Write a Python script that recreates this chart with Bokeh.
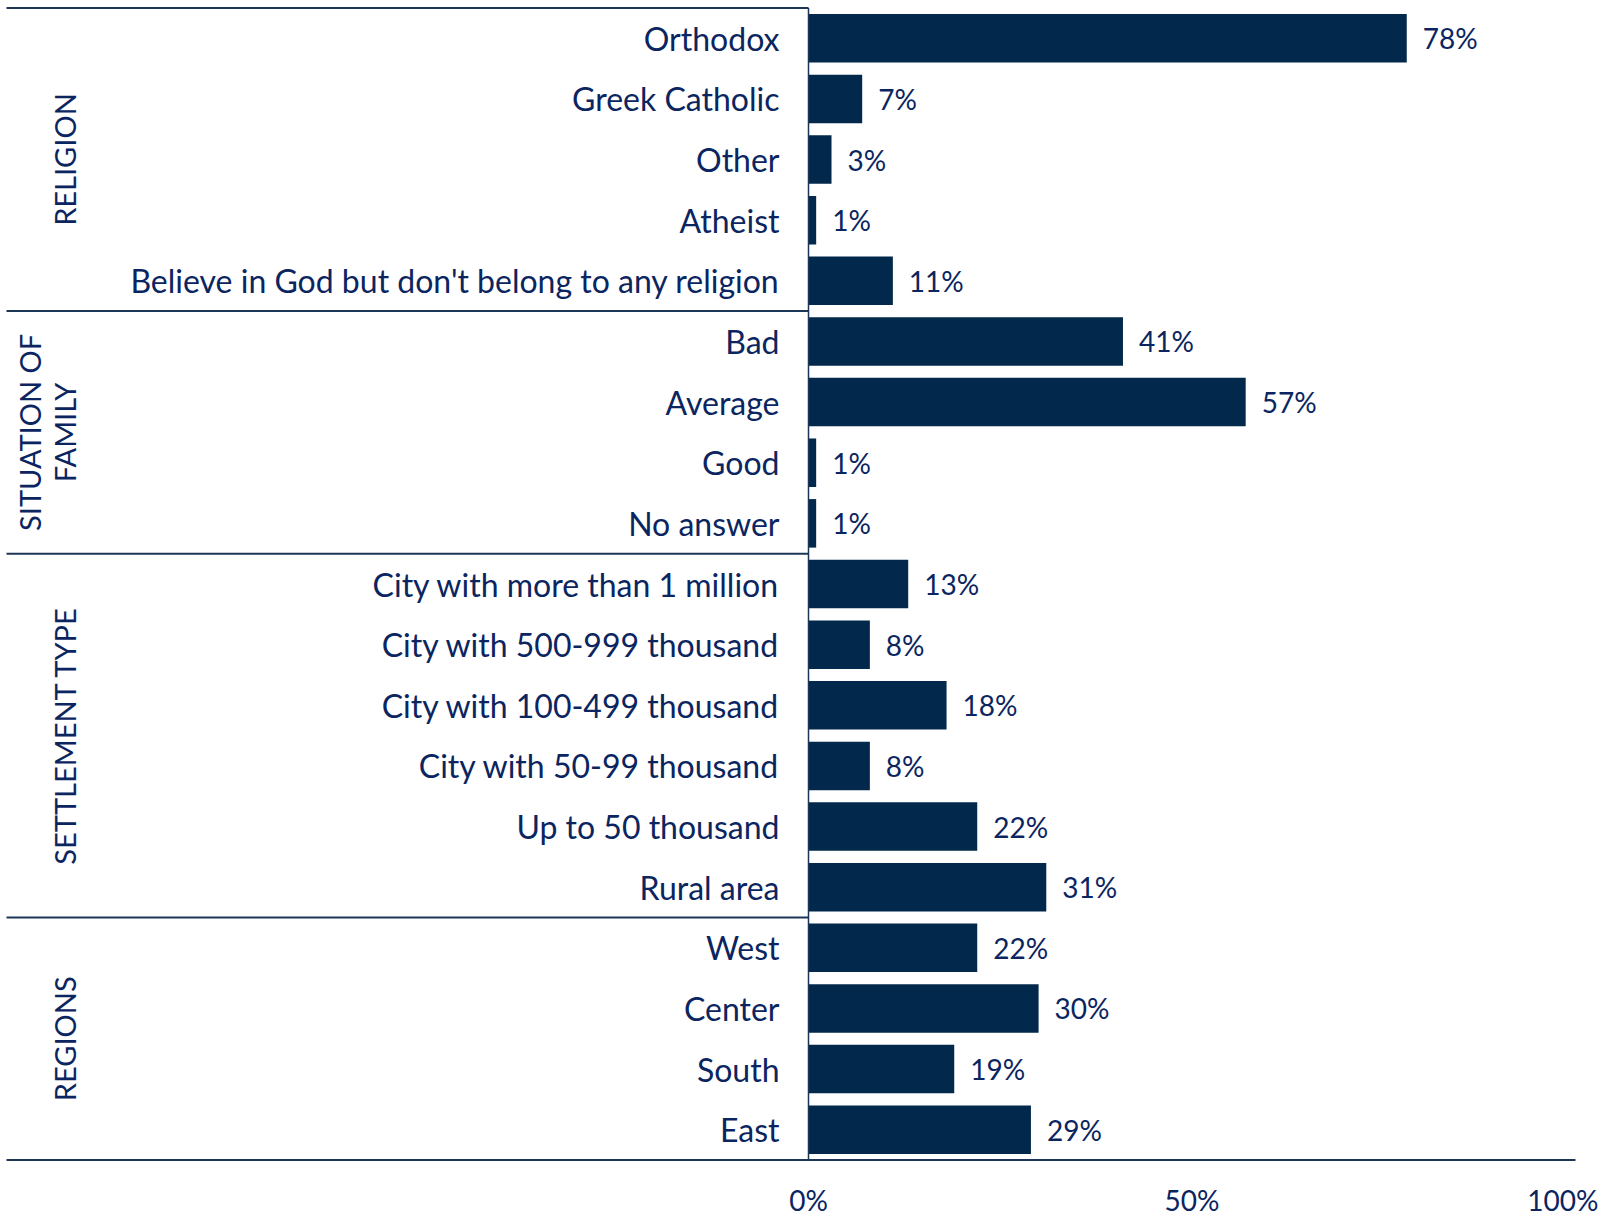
from bokeh.plotting import figure
from bokeh.models import ColumnDataSource, Range1d, FixedTicker, PrintfTickFormatter
from bokeh.core.properties import value
from bokeh.embed import file_html
from bokeh.resources import INLINE
import math

# ---- data ----
groups = ["RELIGION", "SITUATION OF FAMILY", "SETTLEMENT TYPE", "REGIONS"]
religion_cats = ["Orthodox", "Greek Catholic", "Other", "Atheist",
                 "Believe in God but don't belong to any religion"]
religion_vals = [78, 7, 3, 1, 11]
family_cats = ["Bad", "Average", "Good", "No answer"]
family_vals = [41, 57, 1, 1]
settlement_cats = ["City with more than 1 million", "City with 500-999 thousand",
                   "City with 100-499 thousand", "City with 50-99 thousand",
                   "Up to 50 thousand", "Rural area"]
settlement_vals = [13, 8, 18, 8, 22, 31]
region_cats = ["West", "Center", "South", "East"]
region_vals = [22, 30, 19, 29]
x_ticks = [0, 50, 100]

cat_lists = [religion_cats, family_cats, settlement_cats, region_cats]
val_lists = [religion_vals, family_vals, settlement_vals, region_vals]

cats = [c for lst in cat_lists for c in lst]
vals = [v for lst in val_lists for v in lst]
ys = list(range(len(cats)))
n = len(cats)

BAR = "#02284b"
TXT = "#0b2560"
LINE = "#1d3658"
FONT = "Lato"

px_per_unit = 7.67
zero_px = 808   # position of 0 within the frame
frame_w = 1598
x_start = -zero_px / px_per_unit
x_end = (frame_w - zero_px) / px_per_unit
line_start = (6 - zero_px) / px_per_unit
pad = 0.04

p = figure(frame_width=frame_w, frame_height=1157,
           x_range=Range1d(x_start, x_end),
           y_range=Range1d(n - 0.5 + pad, -0.5 - pad),
           output_backend="svg", toolbar_location=None,
           y_axis_location=None, min_border_left=0, min_border_right=0,
           min_border_top=5, min_border_bottom=0)
p.outline_line_color = None
p.xgrid.visible = False
p.ygrid.visible = False
p.background_fill_color = "white"

src = ColumnDataSource(dict(y=ys, v=vals, cat=cats, lab=[f"{v}%" for v in vals]))
p.hbar(y="y", left=0, right="v", height=0.8, source=src, fill_color=BAR, line_color=None)

p.text(x=0, y="y", text="cat", source=src, x_offset=-29, text_align="right",
       text_baseline="middle", text_font=value(FONT), text_font_size="32px", text_color=TXT)
p.text(x="v", y="y", text="lab", source=src, x_offset=16, text_align="left",
       text_baseline="middle", text_font=value(FONT), text_font_size="28px", text_color=TXT)

# group boundaries
bounds = [-0.5]
for lst in cat_lists:
    bounds.append(bounds[-1] + len(lst))
seg_x1 = [0] * (len(bounds) - 1) + [100]
p.segment(x0=[line_start] * len(bounds), x1=seg_x1, y0=bounds, y1=bounds,
          line_color=LINE, line_width=2)
p.segment(x0=[0], x1=[0], y0=[bounds[0]], y1=[bounds[-1]], line_color=LINE, line_width=1.5)

# group labels (rotated)
centers = [(bounds[i] + bounds[i + 1]) / 2 for i in range(len(groups))]
gx = (64 - zero_px) / px_per_unit
gx1 = (29 - zero_px) / px_per_unit
single = [i for i, g in enumerate(groups) if g != "SITUATION OF FAMILY"]
p.text(x=[gx] * len(single), y=[centers[i] for i in single], text=[groups[i] for i in single],
       angle=math.pi / 2, text_align="center", text_baseline="middle",
       text_font=value(FONT), text_font_size="29px", text_color=TXT)
fi = groups.index("SITUATION OF FAMILY")
p.text(x=[gx1, gx], y=[centers[fi], centers[fi]], text=["SITUATION OF", "FAMILY"],
       angle=math.pi / 2, text_align="center", text_baseline="middle",
       text_font=value(FONT), text_font_size="29px", text_color=TXT)

ax = p.xaxis[0]
ax.ticker = FixedTicker(ticks=x_ticks)
ax.formatter = PrintfTickFormatter(format="%d%%")
ax.axis_line_color = None
ax.major_tick_line_color = None
ax.minor_tick_line_color = None
ax.major_label_standoff = 14
ax.major_label_text_font = FONT
ax.major_label_text_font_size = "28px"
ax.major_label_text_color = TXT

open("out.html", "w").write(file_html(p, INLINE))
